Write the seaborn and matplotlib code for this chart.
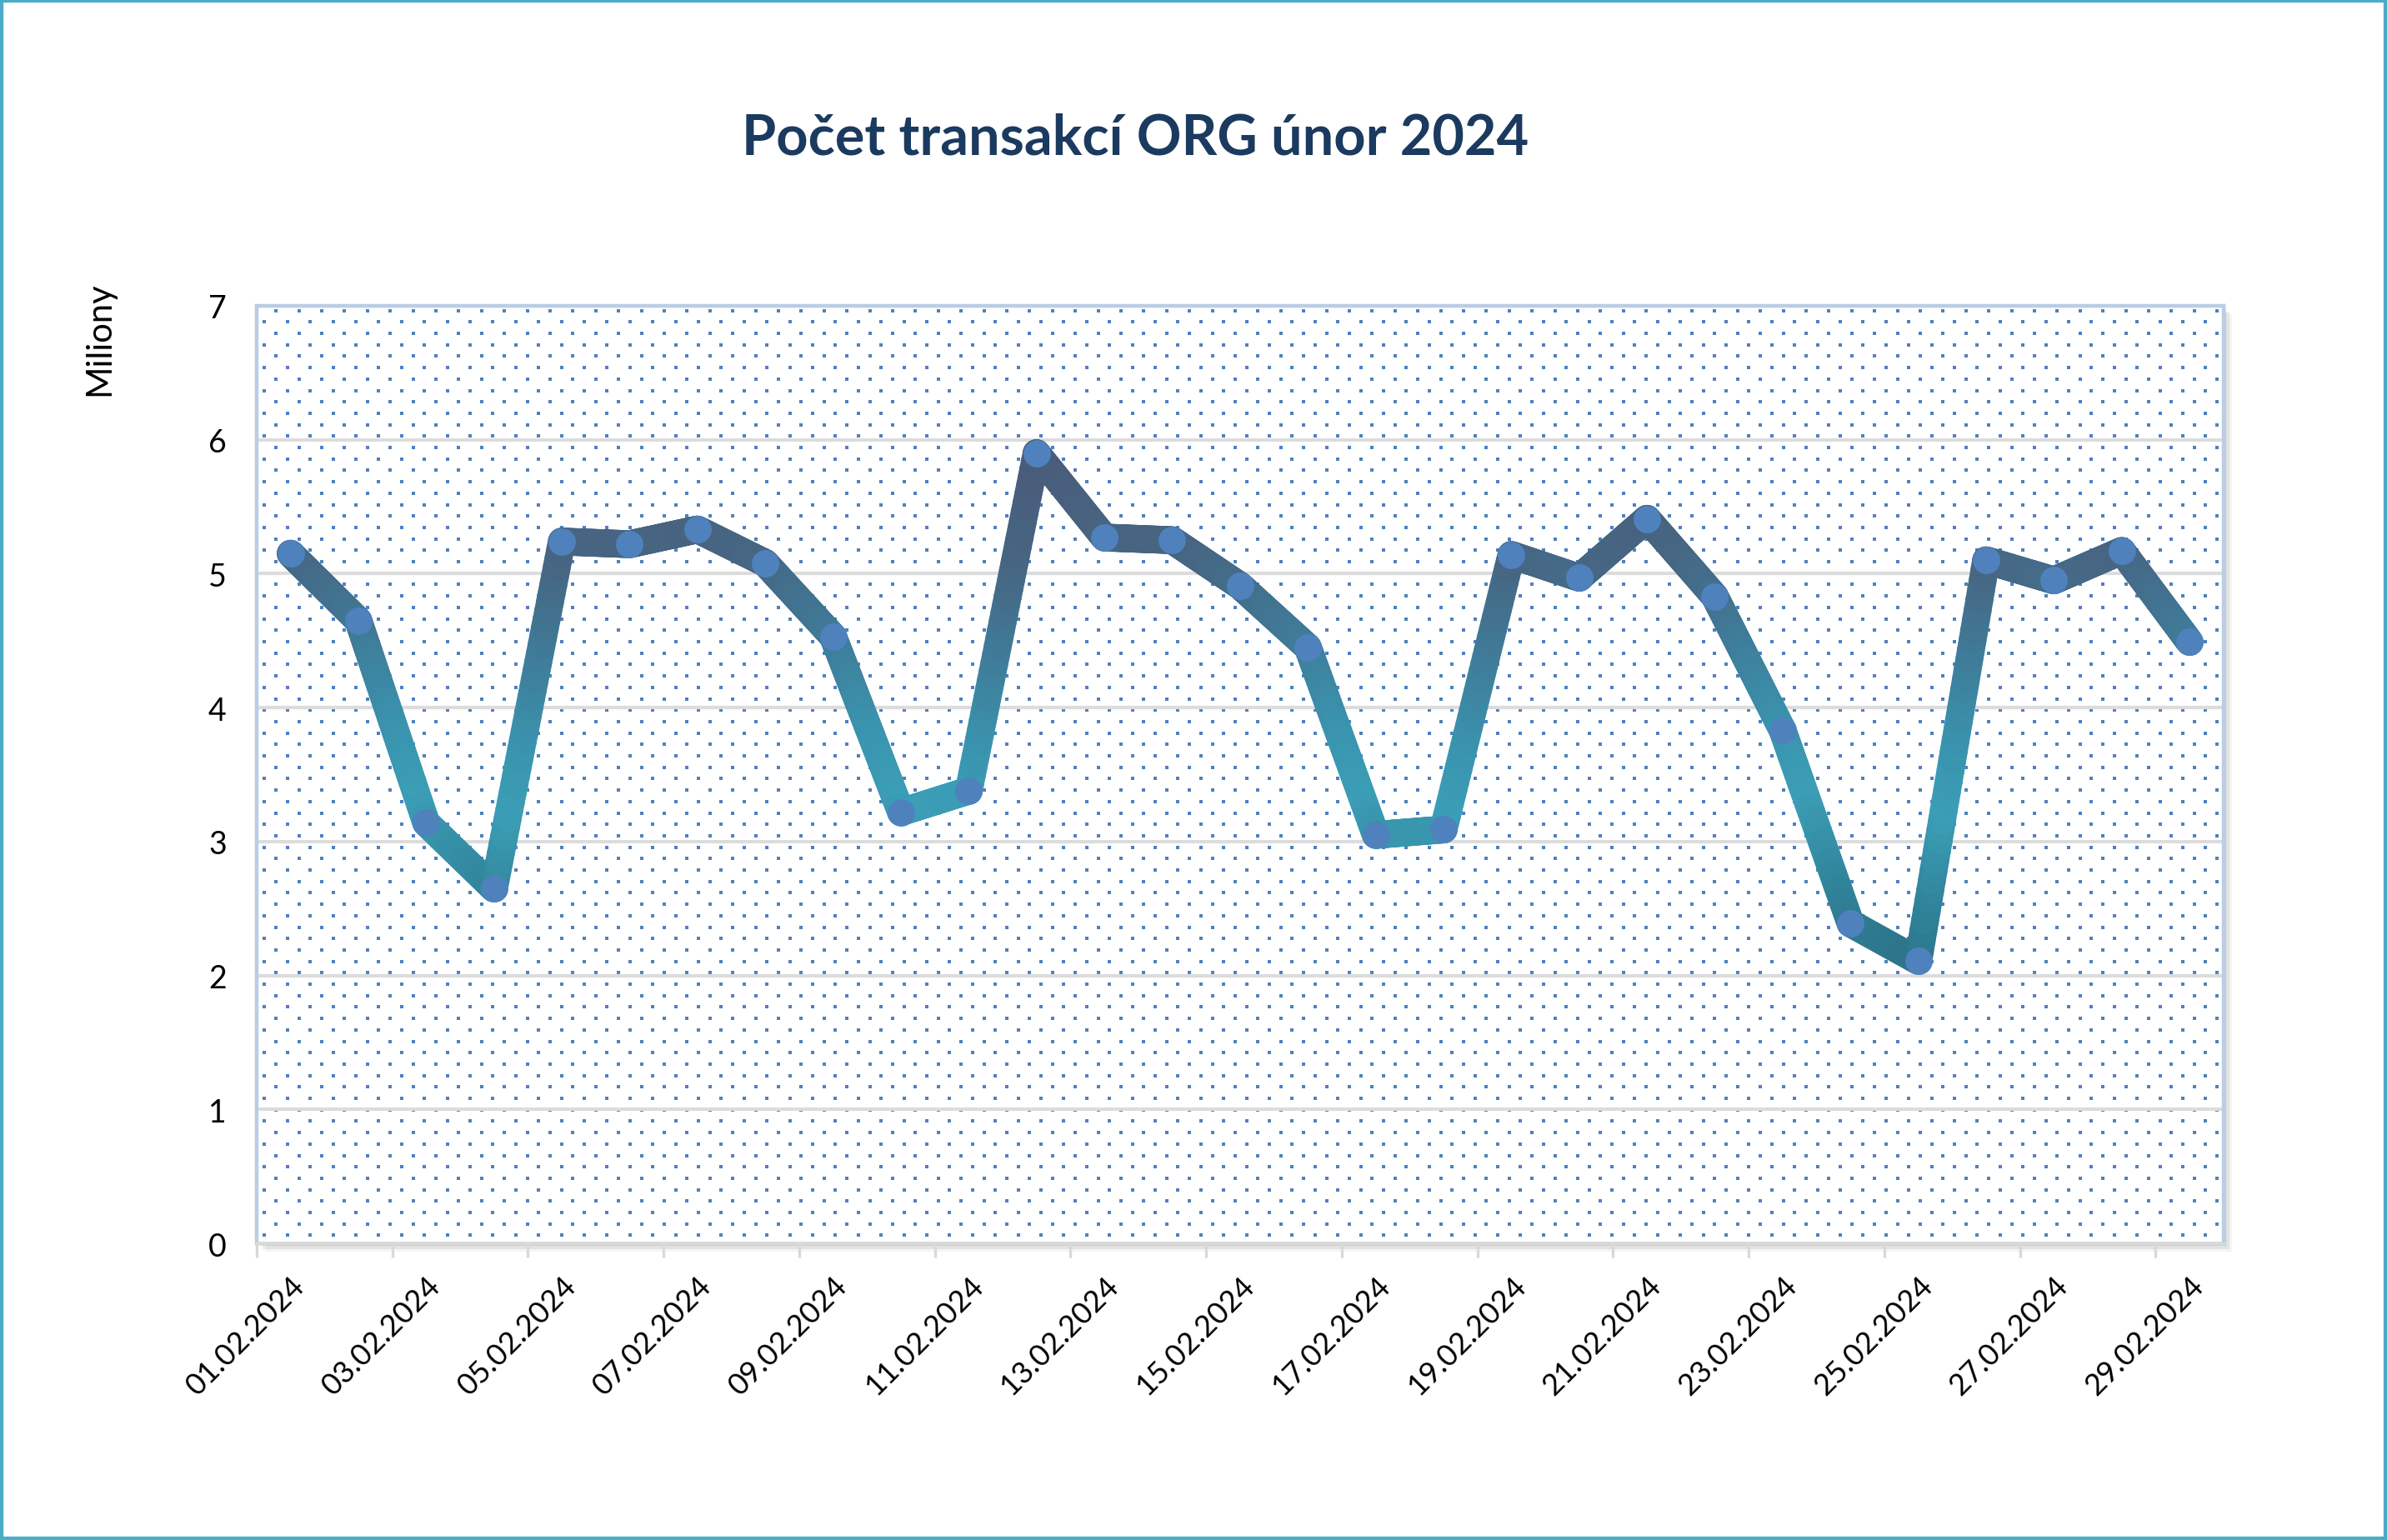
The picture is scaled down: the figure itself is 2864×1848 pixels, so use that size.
import numpy as np
import pandas as pd
import seaborn as sns
import matplotlib.pyplot as plt
from matplotlib.collections import LineCollection
from matplotlib.colors import LinearSegmentedColormap
from matplotlib.patches import Rectangle

# denni pocty transakci (miliony), unor 2024
dny = ['01.02.2024', '02.02.2024', '03.02.2024', '04.02.2024', '05.02.2024',
       '06.02.2024', '07.02.2024', '08.02.2024', '09.02.2024', '10.02.2024',
       '11.02.2024', '12.02.2024', '13.02.2024', '14.02.2024', '15.02.2024',
       '16.02.2024', '17.02.2024', '18.02.2024', '19.02.2024', '20.02.2024',
       '21.02.2024', '22.02.2024', '23.02.2024', '24.02.2024', '25.02.2024',
       '26.02.2024', '27.02.2024', '28.02.2024', '29.02.2024']
hodnoty = [5.15, 4.65, 3.14, 2.65, 5.24, 5.22, 5.33, 5.08, 4.53, 3.22,
           3.38, 5.90, 5.27, 5.25, 4.91, 4.45, 3.05, 3.09, 5.14, 4.97,
           5.41, 4.83, 3.83, 2.39, 2.11, 5.10, 4.95, 5.17, 4.49]
y_ticks = [0, 1, 2, 3, 4, 5, 6, 7]

df = pd.DataFrame({'pozice': np.arange(len(dny)), 'hodnota': hodnoty, 'datum': dny})

sns.set_theme(style='white')
plt.rcParams['font.family'] = ['Lato', 'DejaVu Sans']

fig = plt.figure(figsize=(14.32, 9.245), dpi=200)
ax = fig.add_axes([0.1075, 0.1925, 0.824, 0.6085])
ax.set_xlim(-0.5, len(dny) - 0.5)
ax.set_ylim(0, 7)

# shadow of the plot area
for i, a in enumerate([0.10, 0.07, 0.04]):
    off = (i + 1) * 0.0012
    fig.patches.append(Rectangle((0.1075 + off, 0.1925 - off * 1.5), 0.824, 0.6085,
                                 transform=fig.transFigure, color='#000000',
                                 alpha=a, zorder=-5, lw=0))
fig.patches.append(Rectangle((0.1075, 0.1925), 0.824, 0.6085, transform=fig.transFigure,
                             color='white', zorder=-4, lw=0))

# dotted pattern of the plot area (Excel 5% pattern)
dx, dy = 27.4 / 2360, 13.7 / 1125
rows = np.arange(dy * 0.7, 1, dy)
px, py = [], []
for k, yy in enumerate(rows):
    xs = np.arange(dx * 0.35 + (dx / 2 if k % 2 else 0), 1, dx)
    px.extend(xs)
    py.extend([yy] * len(xs))
ax.scatter(px, py, s=1.6, marker='s', color='#4F81BD', lw=0, transform=ax.transAxes, zorder=0.3)

ax.set_yticks(y_ticks)
ax.yaxis.grid(True, color='#DCDCDC', lw=1.5, zorder=0.5)
ax.set_axisbelow(True)

# thick line with vertical colour gradient
cmap = LinearSegmentedColormap.from_list('grad', [
    (0.0, '#2C7187'), (0.15, '#30849A'), (0.32, '#3B9EB6'), (0.45, '#3A93AE'),
    (0.62, '#3F7B98'), (0.78, '#466683'), (1.0, '#4A5A78')])
x = df['pozice'].to_numpy(float)
y = df['hodnota'].to_numpy(float)
segs, cols = [], []
for i in range(len(x) - 1):
    t = np.linspace(0, 1, 41)
    xs = x[i] + (x[i + 1] - x[i]) * t
    ys = y[i] + (y[i + 1] - y[i]) * t
    for j in range(40):
        segs.append([(xs[j], ys[j]), (xs[j + 1], ys[j + 1])])
        cols.append(cmap(np.clip(((ys[j] + ys[j + 1]) / 2 - 2.0) / 4.0, 0, 1)))
lc = LineCollection(segs, colors=cols, linewidths=12, capstyle='round', zorder=2)
ax.add_collection(lc)

sns.scatterplot(data=df, x='pozice', y='hodnota', ax=ax, color='#4F81BD', s=140,
                linewidth=0, zorder=3, legend=False)

ax.set_xlabel('')
ax.set_ylabel('')
ax.set_xticks(df['pozice'][::2])
ax.set_xticklabels(df['datum'][::2], rotation=45, ha='right', rotation_mode='anchor',
                   fontsize=13, color='black')
ax.set_xticks(np.arange(-0.5, len(dny) - 1, 2), minor=True)
ax.tick_params(axis='x', which='major', length=0, pad=12)
ax.tick_params(axis='x', which='minor', length=6, width=1.2, color='#D9D9D9', bottom=True)
ax.tick_params(axis='y', length=0, pad=13, labelsize=13.5, labelcolor='black')

for s in ['left', 'top', 'right']:
    ax.spines[s].set_color('#B9CDE5')
    ax.spines[s].set_linewidth(1.6)
ax.spines['bottom'].set_color('#D9D9D9')
ax.spines['bottom'].set_linewidth(1.2)

fig.text(0.4755, 0.910, 'Počet transakcí ORG únor 2024', ha='center', va='center',
         fontsize=24, fontweight='bold', color='#1B3A5F')
fig.text(0.0415, 0.78, 'Miliony', rotation=90, ha='center', va='center', fontsize=15,
         color='black')

fig.patches.append(Rectangle((0, 0), 1, 1, transform=fig.transFigure, fill=False,
                             edgecolor='#4BACC6', lw=3, zorder=10))

fig.savefig('out.png', dpi=200, facecolor='white')
